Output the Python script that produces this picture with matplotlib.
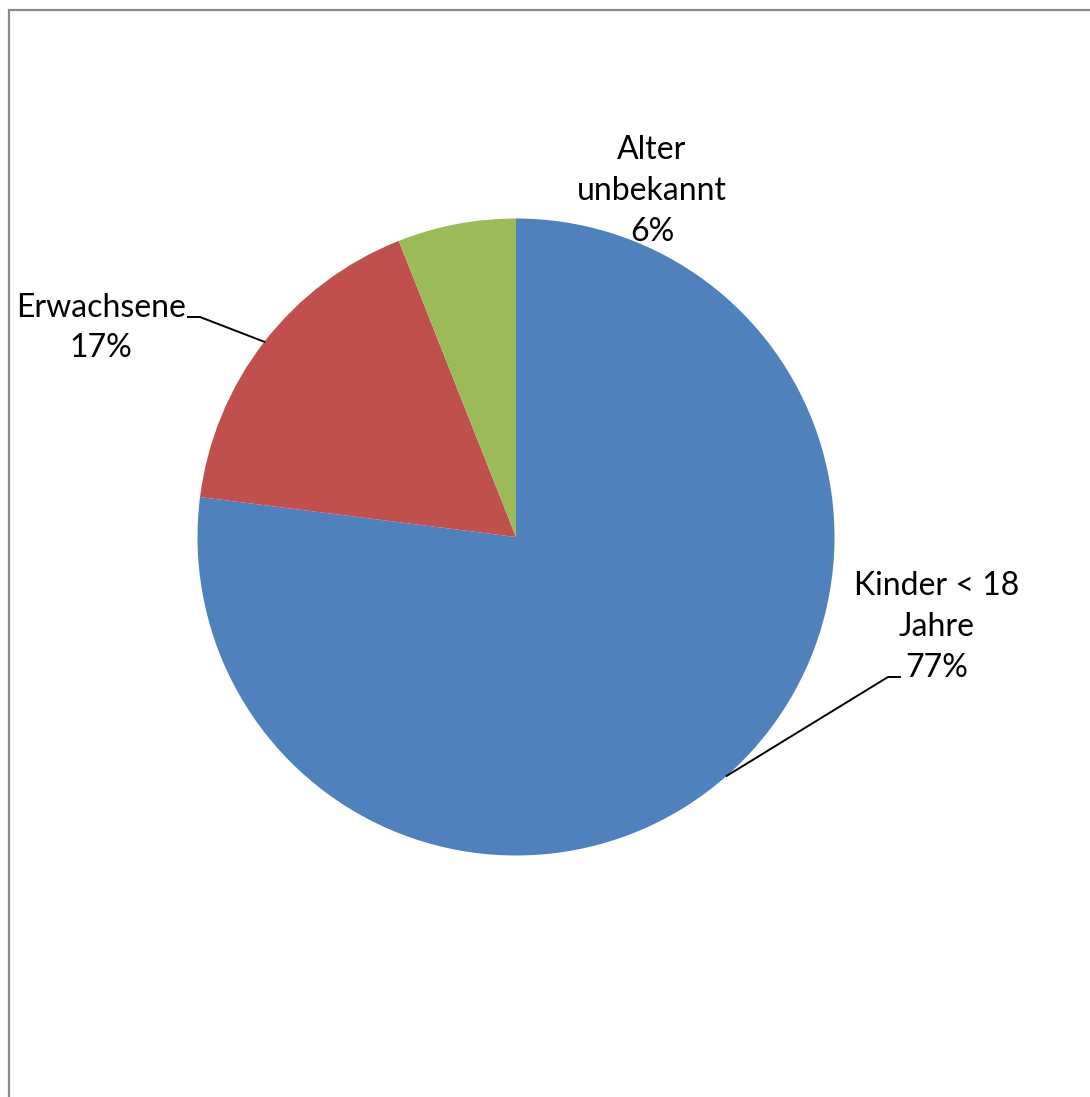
import numpy as np
import matplotlib.pyplot as plt

plt.rcParams['font.family'] = ['Lato', 'DejaVu Sans']

labels = ['Kinder < 18\nJahre', 'Erwachsene', 'Alter\nunbekannt']
shares = [77, 17, 6]
colors = ['#4F81BD', '#C0504D', '#9BBB59']

W, H = 1090, 1097
fig = plt.figure(figsize=(W / 100, H / 100), dpi=100)
ax = fig.add_axes([0, 0, 1, 1])
ax.set_xlim(0, W)
ax.set_ylim(0, H)
ax.set_aspect('equal')
ax.axis('off')

# chart frame (right and bottom edges are cut off in the original)
ax.plot([9, 9, W + 5], [-5, H - 10, H - 10], color='#8a8a8a', lw=1.6, solid_joinstyle='miter')

cx, cy, r = 516, H - 537, 318.5
wedges, _ = ax.pie(shares, colors=colors, startangle=90, counterclock=False,
                   center=(cx, cy), radius=r, wedgeprops=dict(linewidth=0))
ax.set_xlim(0, W)
ax.set_ylim(0, H)

# label text positions and leader line knees (pixels, y up)
txt_pos = [(937, H - 627), (101, H - 328), (652, H - 191)]
knees = [[(888, H - 677), (900, H - 677)], [(200, H - 317), (188, H - 317)], None]

for w, lab, s, pos, knee in zip(wedges, labels, shares, txt_pos, knees):
    ax.text(pos[0], pos[1], f'{lab}\n{s}%', ha='center', va='center',
            fontsize=23, linespacing=1.45, color='black')
    if knee:
        mid = np.deg2rad((w.theta1 + w.theta2) / 2)
        ex, ey = cx + r * np.cos(mid), cy + r * np.sin(mid)
        xs = [ex] + [k[0] for k in knee]
        ys = [ey] + [k[1] for k in knee]
        ax.plot(xs, ys, color='black', lw=1.4)

fig.savefig('out.png', dpi=100)
